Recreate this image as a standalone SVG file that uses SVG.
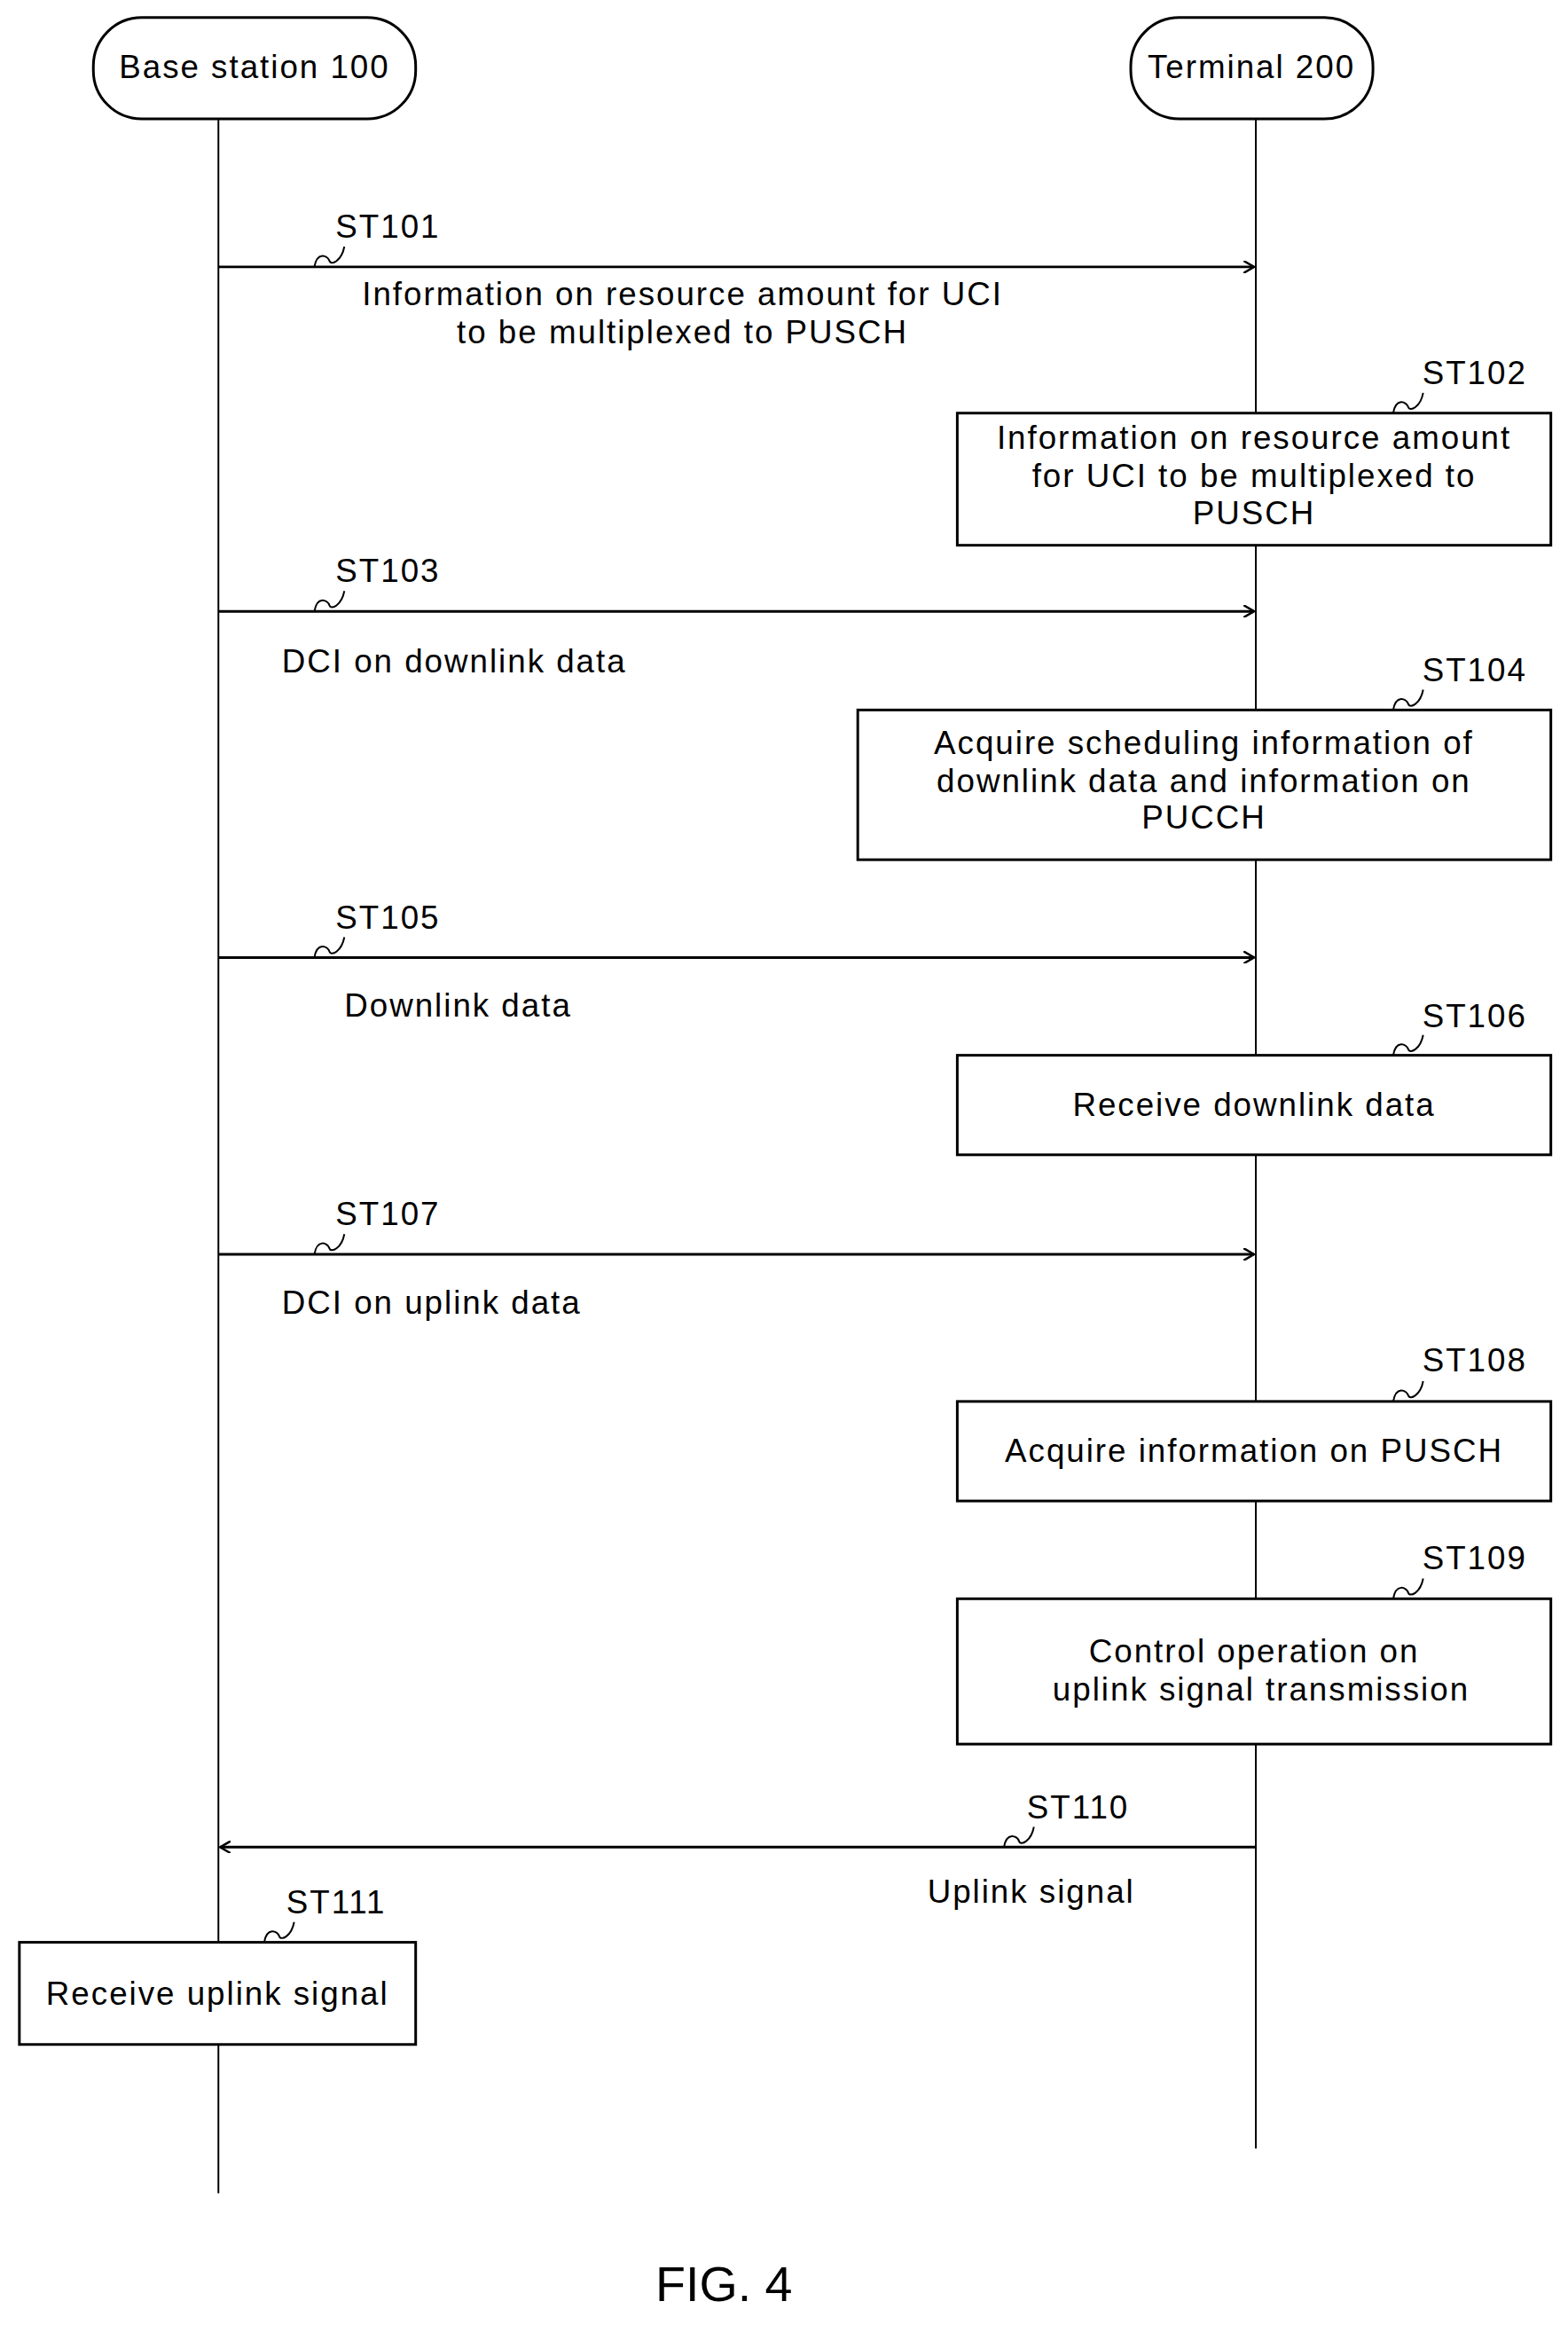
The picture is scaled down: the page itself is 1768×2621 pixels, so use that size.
<svg xmlns="http://www.w3.org/2000/svg" width="1768" height="2621" viewBox="0 0 1768 2621">
<style>
text{font-family:"Liberation Sans",Arial,sans-serif;font-size:37px;fill:#000;letter-spacing:2px}
.m{text-anchor:middle}
.b{fill:#fff;stroke:#000;stroke-width:3}
.l{stroke:#000;stroke-width:2;fill:none}
.a{stroke:#000;stroke-width:3;fill:none}
.s{stroke:#000;stroke-width:2;fill:none}
</style>
<defs>
<marker id="ah" markerWidth="14" markerHeight="14" refX="12" refY="7" orient="auto" markerUnits="userSpaceOnUse">
<path d="M0,0 L12,7 L0,14" fill="none" stroke="#000" stroke-width="2.5"/>
</marker>
</defs>
<rect width="1768" height="2621" fill="#fff"/>
<g transform="scale(0.993)">
<g id="lifelines">
<line class="l" x1="248" y1="135" x2="248" y2="2490"/>
<line class="l" x1="1426" y1="135" x2="1426" y2="2439"/>
</g>
<g id="base"><rect class="b" x="106" y="20" width="366" height="115" rx="55"/><text class="m" x="289" y="89">Base station 100</text></g>
<g id="terminal"><rect class="b" x="1284" y="20" width="275" height="115" rx="55"/><text class="m" x="1421" y="89">Terminal 200</text></g>
<g id="connectors">
<line class="a" x1="248" y1="303" x2="1424" y2="303" marker-end="url(#ah)"/>
<line class="a" x1="248" y1="694" x2="1424" y2="694" marker-end="url(#ah)"/>
<line class="a" x1="248" y1="1087" x2="1424" y2="1087" marker-end="url(#ah)"/>
<line class="a" x1="248" y1="1424" x2="1424" y2="1424" marker-end="url(#ah)"/>
<line class="a" x1="1426" y1="2097" x2="250" y2="2097" marker-end="url(#ah)"/>
</g>
<g id="squiggles">
<path class="s" d="M357,303 C360,285 372,290 374,296 C376,302 388,296 391,280"/>
<path class="s" d="M357,694 C360,676 372,681 374,687 C376,693 388,687 391,671"/>
<path class="s" d="M357,1087 C360,1069 372,1074 374,1080 C376,1086 388,1080 391,1064"/>
<path class="s" d="M357,1424 C360,1406 372,1411 374,1417 C376,1423 388,1417 391,1401"/>
<path class="s" d="M1582,469 C1585,451 1597,456 1599,462 C1601,468 1613,462 1616,446"/>
<path class="s" d="M1582,806 C1585,788 1597,793 1599,799 C1601,805 1613,799 1616,783"/>
<path class="s" d="M1582,1198 C1585,1180 1597,1185 1599,1191 C1601,1197 1613,1191 1616,1175"/>
<path class="s" d="M1582,1591 C1585,1573 1597,1578 1599,1584 C1601,1590 1613,1584 1616,1568"/>
<path class="s" d="M1582,1815 C1585,1797 1597,1802 1599,1808 C1601,1814 1613,1808 1616,1792"/>
<path class="s" d="M1140,2097 C1143,2079 1155,2084 1157,2090 C1159,2096 1171,2090 1174,2074"/>
<path class="s" d="M300,2205 C303,2187 315,2192 317,2198 C319,2204 331,2198 334,2182"/>
</g>
<g id="labels">
<text x="381" y="270">ST101</text>
<text class="m" x="775" y="346">Information on resource amount for UCI</text>
<text class="m" x="775" y="390">to be multiplexed to PUSCH</text>
<text x="381" y="661">ST103</text>
<text x="320" y="763">DCI on downlink data</text>
<text x="381" y="1054">ST105</text>
<text x="391" y="1154">Downlink data</text>
<text x="381" y="1391">ST107</text>
<text x="320" y="1491">DCI on uplink data</text>
<text x="1166" y="2064">ST110</text>
<text x="1053" y="2160">Uplink signal</text>
</g>
<g id="st102"><rect class="b" x="1087" y="469" width="674" height="150"/><text x="1615" y="436">ST102</text>
<text class="m" x="1424" y="510">Information on resource amount</text><text class="m" x="1424" y="553">for UCI to be multiplexed to</text><text class="m" x="1424" y="595">PUSCH</text></g>
<g id="st104"><rect class="b" x="974" y="806" width="787" height="170"/><text x="1615" y="773">ST104</text>
<text class="m" x="1367" y="856">Acquire scheduling information of</text><text class="m" x="1367" y="899">downlink data and information on</text><text class="m" x="1367" y="941">PUCCH</text></g>
<g id="st106"><rect class="b" x="1087" y="1198" width="674" height="113"/><text x="1615" y="1166">ST106</text>
<text class="m" x="1424" y="1267">Receive downlink data</text></g>
<g id="st108"><rect class="b" x="1087" y="1591" width="674" height="113"/><text x="1615" y="1557">ST108</text>
<text class="m" x="1424" y="1660">Acquire information on PUSCH</text></g>
<g id="st109"><rect class="b" x="1087" y="1815" width="674" height="165"/><text x="1615" y="1781">ST109</text>
<text class="m" x="1424" y="1887">Control operation on</text><text class="m" x="1432" y="1931">uplink signal transmission</text></g>
<g id="st111"><rect class="b" x="22" y="2205" width="450" height="116"/><text x="325" y="2172">ST111</text>
<text class="m" x="247" y="2276">Receive uplink signal</text></g>
<text class="m" x="822" y="2612" style="font-size:56px;letter-spacing:0">FIG. 4</text>
</g>
</svg>
